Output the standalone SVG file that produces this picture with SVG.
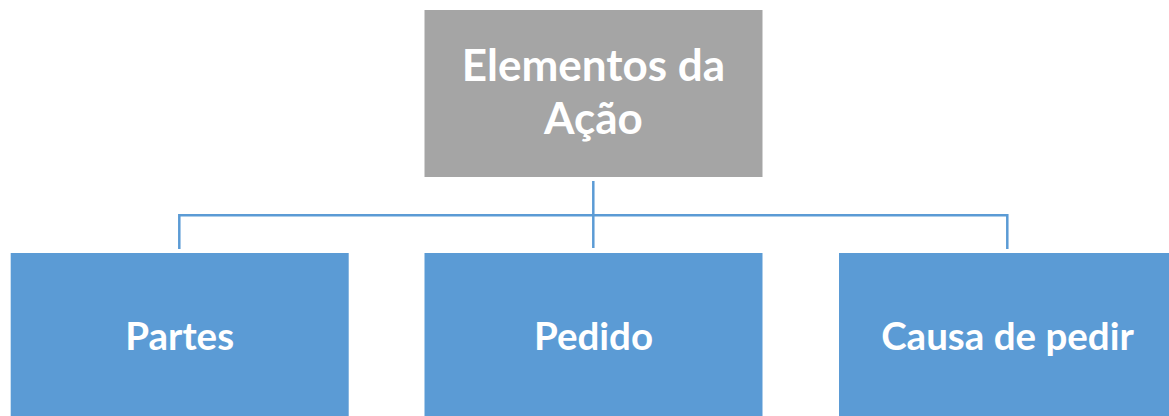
<svg xmlns="http://www.w3.org/2000/svg" width="1169" height="416" viewBox="0 0 1169 416">
<style>
.t{font-family:Lato,"Open Sans",sans-serif;font-weight:bold;font-size:38.5px;fill:#fff;text-anchor:middle}
.h{font-size:44px}
.c{fill:none;stroke:#5B9BD5;stroke-width:2.5}
</style>
<rect width="1169" height="416" fill="#fff"/>
<g id="connectors">
<path class="c" d="M593.3,181V248"/>
<path class="c" d="M179.3,249V215.3H1007.3V249"/>
</g>
<g id="root">
<rect x="424.5" y="10" width="338" height="167" fill="#A5A5A5"/>
<text class="t h" x="593.5" y="81">Elementos da</text>
<text class="t h" x="593.5" y="134">Ação</text>
</g>
<g id="partes">
<rect x="10.7" y="253" width="338" height="170" fill="#5B9BD5"/>
<text class="t" x="179.7" y="350">Partes</text>
</g>
<g id="pedido">
<rect x="424.5" y="253" width="338" height="170" fill="#5B9BD5"/>
<text class="t" x="593.5" y="350">Pedido</text>
</g>
<g id="causa">
<rect x="839" y="253" width="338" height="170" fill="#5B9BD5"/>
<text class="t" x="1007.5" y="350">Causa de pedir</text>
</g>
</svg>
